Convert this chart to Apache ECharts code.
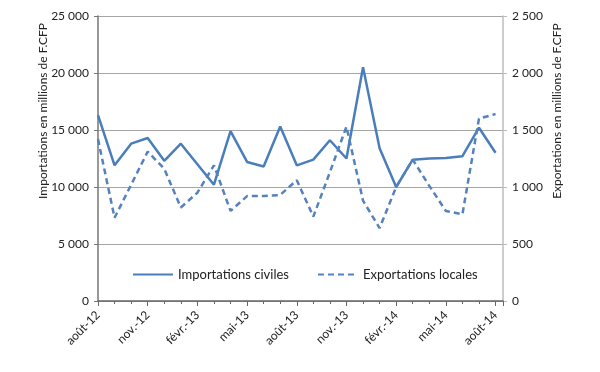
<!DOCTYPE html>
<html>
<head>
<meta charset="utf-8">
<script src="https://cdn.jsdelivr.net/npm/echarts@6/dist/echarts.min.js"></script>
<style>
html,body{margin:0;padding:0;background:#fff;}
#c{width:600px;height:372px;}
</style>
</head>
<body>
<div id="c"></div>
<script>
const months = ['août-12','sept.-12','oct.-12','nov.-12','déc.-12','janv.-13','févr.-13','mars-13','avr.-13','mai-13','juin-13','juil.-13','août-13','sept.-13','oct.-13','nov.-13','déc.-13','janv.-14','févr.-14','mars-14','avr.-14','mai-14','juin-14','juil.-14','août-14'];
const importations = [16300, 11900, 13800, 14300, 12300, 13800, 12000, 10200, 14900, 12200, 11800, 15300, 11900, 12400, 14100, 12500, 20500, 13400, 10000, 12400, 12500, 12550, 12700, 15200, 13000];
const exportations = [1420, 730, 1020, 1310, 1160, 820, 950, 1190, 790, 920, 920, 930, 1060, 740, 1130, 1530, 880, 640, 1000, 1240, 1010, 790, 760, 1600, 1640];
const leftTicks = [0, 5000, 10000, 15000, 20000, 25000];
const rightTicks = [0, 500, 1000, 1500, 2000, 2500];
const seriesNames = ['Importations civiles', 'Exportations locales'];
const leftTitle = 'Importations en millions de F.CFP';
const rightTitle = 'Exportations en millions de F.CFP';

const FONT = 'Lato';
const fmt = v => String(v).replace(/\B(?=(\d{3})+(?!\d))/g, ' ');
const chart = echarts.init(document.getElementById('c'), null, {renderer: 'canvas'});
chart.setOption({
  animation: false,
  backgroundColor: '#fff',
  textStyle: {fontFamily: FONT},
  grid: {left: 98, right: 97, top: 16, bottom: 71},
  legend: {
    left: 127, top: 263, itemWidth: 40, itemHeight: 12, itemGap: 28,
    itemStyle: {opacity: 0},
    textStyle: {fontFamily: FONT, fontSize: 13, color: '#222'},
    data: seriesNames
  },
  graphic: [
    {type: 'text', rotation: Math.PI / 2, x: 43, y: 111,
     style: {text: leftTitle, font: '12px ' + FONT, fill: '#222', align: 'center', verticalAlign: 'middle'}},
    {type: 'text', rotation: Math.PI / 2, x: 557, y: 111,
     style: {text: rightTitle, font: '12px ' + FONT, fill: '#222', align: 'center', verticalAlign: 'middle'}}
  ],
  xAxis: {
    type: 'value', min: 0, max: 24.45, interval: 3,
    splitLine: {show: false},
    axisLine: {lineStyle: {color: '#666', width: 1.5}},
    axisTick: {show: true, length: 5, lineStyle: {color: '#666'}},
    minorTick: {show: true, splitNumber: 3, length: 3, lineStyle: {color: '#666'}},
    minorSplitLine: {show: false},
    axisLabel: {
      rotate: 45, fontSize: 12, color: '#222', fontFamily: FONT, margin: 12,
      showMaxLabel: false,
      formatter: v => (Number.isInteger(v) && months[v] !== undefined) ? months[v] : ''
    }
  },
  yAxis: [
    {
      type: 'value', min: 0, max: 25000, interval: 5000, position: 'left',
      axisLine: {show: true, lineStyle: {color: '#777', width: 1.5}},
      axisTick: {show: true, length: 4, lineStyle: {color: '#777'}},
      splitLine: {show: true, lineStyle: {color: '#a6a6a6', width: 1}},
      axisLabel: {fontSize: 12, color: '#222', fontFamily: FONT, margin: 9,
        formatter: v => leftTicks.includes(v) ? fmt(v) : ''}
    },
    {
      type: 'value', min: 0, max: 2500, interval: 500, position: 'right',
      axisLine: {show: true, lineStyle: {color: '#bdbdbd', width: 1.5}},
      axisTick: {show: true, length: 4, lineStyle: {color: '#bdbdbd'}},
      splitLine: {show: false},
      axisLabel: {fontSize: 12, color: '#222', fontFamily: FONT, margin: 9,
        formatter: v => rightTicks.includes(v) ? fmt(v) : ''}
    }
  ],
  series: [
    {
      name: seriesNames[0], type: 'line', yAxisIndex: 0, symbol: 'none',
      lineStyle: {color: '#4a7ebb', width: 2.5}, itemStyle: {color: '#4a7ebb'},
      data: importations.map((v, i) => [i, v])
    },
    {
      name: seriesNames[1], type: 'line', yAxisIndex: 1, symbol: 'none',
      lineStyle: {color: '#5582bd', width: 2.5, type: [6, 4]}, itemStyle: {color: '#5582bd'},
      data: exportations.map((v, i) => [i, v])
    }
  ]
});
</script>
</body>
</html>
